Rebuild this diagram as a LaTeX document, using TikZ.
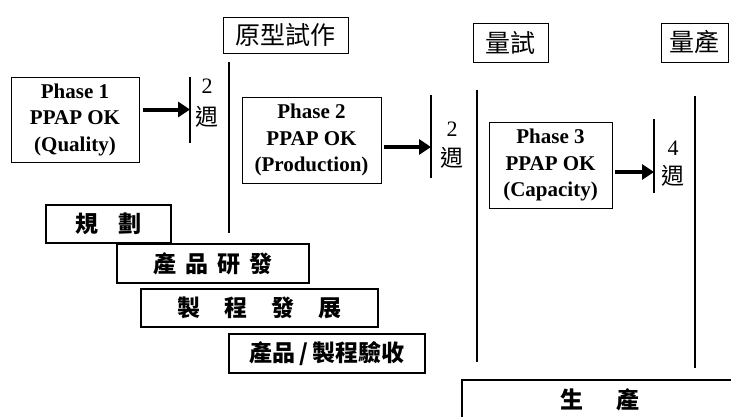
\documentclass[tikz,border=0pt]{standalone}
\usepackage{fontspec}
\setmainfont{Liberation Serif}
\newfontfamily\cjk{Noto Sans CJK TC}
\usetikzlibrary{arrows.meta}
\begin{document}
\begin{tikzpicture}[x=1pt,y=-1pt,
  phasebox/.style={draw,line width=1pt,inner sep=0pt,align=center,
    font=\fontsize{21}{26.5}\selectfont\bfseries},
  headbox/.style={draw,line width=1pt,inner sep=0pt,font=\fontsize{25}{28}\selectfont\cjk},
  taskbox/.style={draw,line width=2pt,inner sep=0pt,font=\fontsize{23}{26}\selectfont\cjk\bfseries},
  bar/.style={line width=2.5pt},
  wk/.style={inner sep=0pt,font=\fontsize{22}{24}\selectfont},
  wkc/.style={inner sep=0pt,font=\fontsize{23}{24}\selectfont\cjk},
  arrowline/.style={line width=4pt,-{Triangle[length=12pt,width=15pt]}}]
\useasboundingbox (0,0) rectangle (731,416);
% phase boxes
\node[phasebox,minimum width=128,minimum height=85] (p1) at (75,119.5) {Phase 1\\PPAP OK\\(Quality)};
\node[phasebox,minimum width=139,minimum height=86] (p2) at (311.5,140) {Phase 2\\PPAP OK\\(Production)};
\node[phasebox,minimum width=123,minimum height=86] (p3) at (550.5,165) {Phase 3\\PPAP OK\\(Capacity)};
% header boxes
\node[headbox,minimum width=125,minimum height=36] (h1) at (285.5,35) {原型試作};
\node[headbox,minimum width=75,minimum height=39] (h2) at (510.5,42.5) {量試};
\node[headbox,minimum width=67,minimum height=39] (h3) at (694.5,42.5) {量產};
% bars
\coordinate (b1t) at (190,77); \coordinate (b1b) at (190,143);
\coordinate (l1t) at (229,62); \coordinate (l1b) at (229,233);
\coordinate (b2t) at (431,95); \coordinate (b2b) at (431,178);
\coordinate (l2t) at (477,90); \coordinate (l2b) at (477,362);
\coordinate (b3t) at (654,119); \coordinate (b3b) at (654,193);
\coordinate (l3t) at (695,96); \coordinate (l3b) at (695,368);
\draw[bar] (b1t) -- (b1b);
\draw[bar] (l1t) -- (l1b);
\draw[bar] (b2t) -- (b2b);
\draw[bar] (l2t) -- (l2b);
\draw[bar] (b3t) -- (b3b);
\draw[bar] (l3t) -- (l3b);
% arrows
\draw[arrowline] (p1.east) ++(3,-10) coordinate (a1s) -- (a1s -| b1t);
\draw[arrowline] (p2.east) ++(2,7) coordinate (a2s) -- (a2s -| b2t);
\draw[arrowline] (p3.east) ++(2,7) coordinate (a3s) -- (a3s -| b3t);
% week labels
\node[wk] (n1) at (207,86) {2};
\node[wkc] (w1) at (207,117) {週};
\node[wk] (n2) at (452,129) {2};
\node[wkc] (w2) at (452,158) {週};
\node[wk] (n3) at (673,148) {4};
\node[wkc] (w3) at (673,176) {週};
% task boxes
\node[taskbox,minimum width=125,minimum height=38] (r1) at (108.5,224) {規\hspace{20pt}劃};
\node[taskbox,minimum width=192,minimum height=39] (r2) at (213,263.5) {產\hspace{9pt}品\hspace{9pt}研\hspace{9pt}發};
\node[taskbox,minimum width=237,minimum height=38] (r3) at (259.5,308) {製\hspace{24pt}程\hspace{24pt}發\hspace{24pt}展};
\node[taskbox,minimum width=196,minimum height=39] (r4) at (327,353.5) {產品\,/\,製程驗收};
\draw[line width=2pt] (740,380) -| (462,430);
\node[inner sep=0pt,font=\fontsize{23}{26}\selectfont\cjk\bfseries] (r5) at (600,400) {生\hspace{33pt}產};
\end{tikzpicture}
\end{document}
